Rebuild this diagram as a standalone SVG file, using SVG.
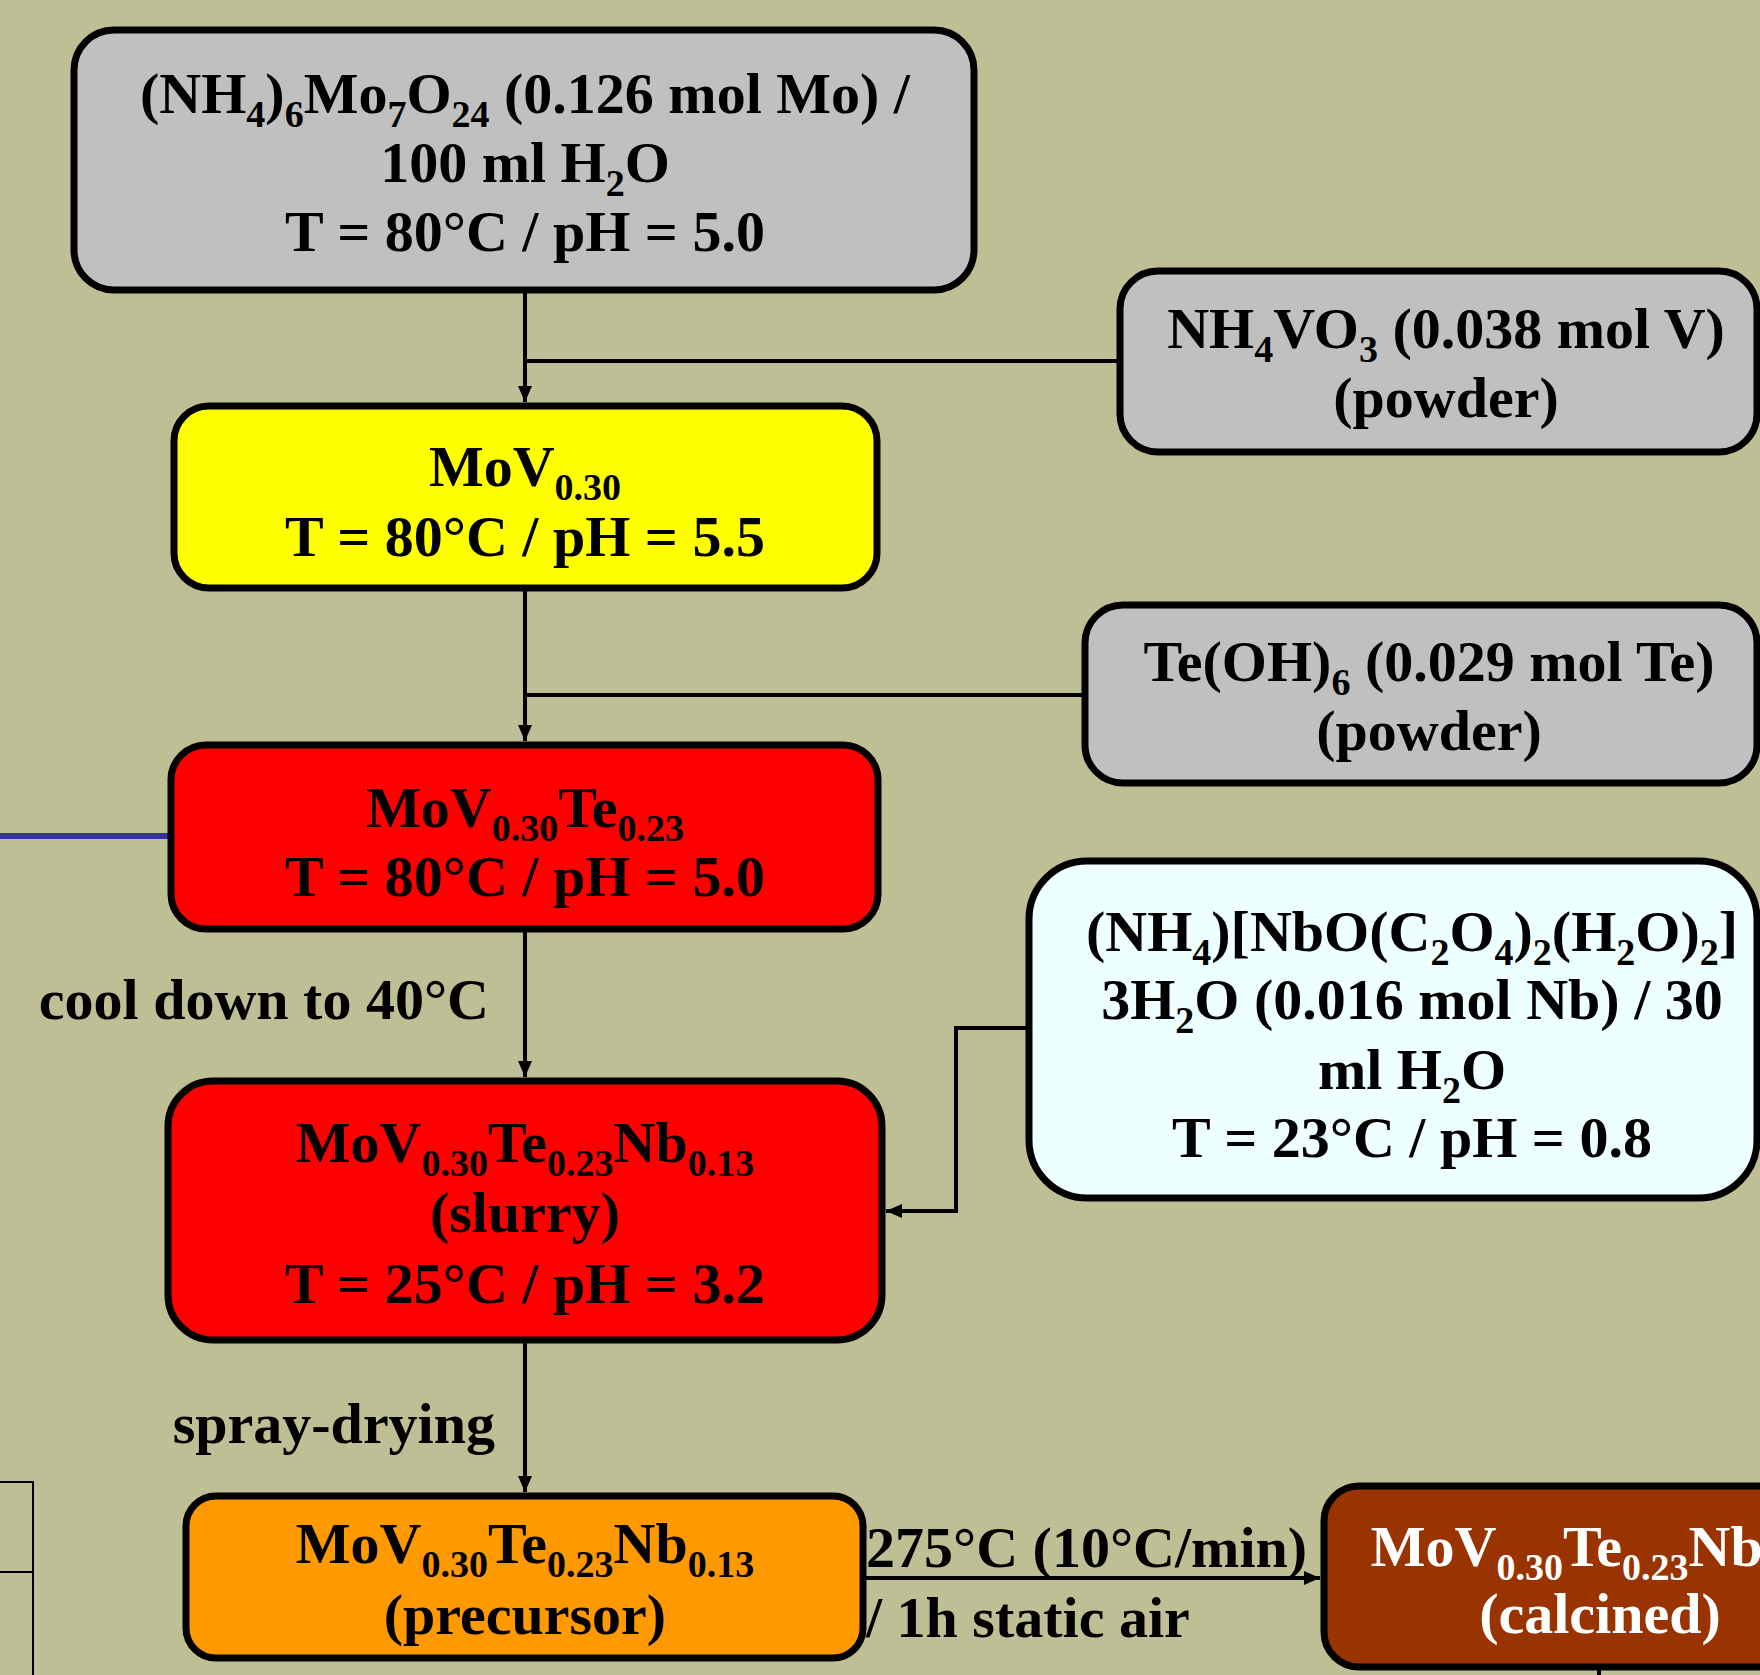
<svg xmlns="http://www.w3.org/2000/svg" width="1760" height="1675" viewBox="0 0 1760 1675">
<defs>
<style>
.box{stroke:#000;stroke-width:7}
.t{font-family:"Liberation Serif","Times New Roman",serif;font-weight:bold;font-size:58px;fill:#000}
.c{text-anchor:middle}
.w{fill:#fff}
.s{font-size:38px}
.con{stroke:#000;stroke-width:4;fill:none}
</style>
<marker id="arr" markerUnits="userSpaceOnUse" markerWidth="18" markerHeight="14" refX="16" refY="7" orient="auto">
<path d="M0,0 L16,7 L0,14 Z" fill="#000"/>
</marker>
</defs>
<rect width="1760" height="1675" fill="#BFBF95"/>
<g id="connectors">
<line class="con" x1="525" y1="290" x2="525" y2="402" marker-end="url(#arr)"/>
<line class="con" x1="1120" y1="361" x2="525" y2="361"/>
<line class="con" x1="525" y1="588" x2="525" y2="741" marker-end="url(#arr)"/>
<line class="con" x1="1085" y1="695" x2="525" y2="695"/>
<line class="con" x1="525" y1="929" x2="525" y2="1077" marker-end="url(#arr)"/>
<polyline class="con" points="1029,1028 956,1028 956,1211 886,1211" marker-end="url(#arr)"/>
<line class="con" x1="525" y1="1340" x2="525" y2="1492" marker-end="url(#arr)"/>
<line class="con" x1="863" y1="1578" x2="1320" y2="1578" marker-end="url(#arr)"/>
<line x1="0" y1="836" x2="171" y2="836" stroke="#333399" stroke-width="6"/>
<path d="M0,1482 H33 V1675 M0,1572 H33" stroke="#000" stroke-width="2" fill="none"/>
<line class="con" x1="1599" y1="1667" x2="1599" y2="1675"/>
<text class="t" x="489" y="1019" text-anchor="end">cool down to 40°C</text>
<text class="t" x="495" y="1443" text-anchor="end">spray-drying</text>
<text class="t" x="866" y="1567">275°C (10°C/min)</text>
<text class="t" x="866" y="1637">/ 1h static air</text>
</g>
<g id="n1">
<rect class="box" x="74" y="30" width="900" height="260" rx="40" fill="#C0C0C0"/>
<text class="t c" x="525" y="113">(NH<tspan class="s" dy="14">4</tspan><tspan dy="-14">)</tspan><tspan class="s" dy="14">6</tspan><tspan dy="-14">Mo</tspan><tspan class="s" dy="14">7</tspan><tspan dy="-14">O</tspan><tspan class="s" dy="14">24</tspan><tspan dy="-14"> (0.126 mol Mo) /</tspan></text>
<text class="t c" x="525" y="182">100 ml H<tspan class="s" dy="14">2</tspan><tspan dy="-14">O</tspan></text>
<text class="t c" x="525" y="251">T = 80°C / pH = 5.0</text>
</g>
<g id="n2">
<rect class="box" x="1120" y="271" width="637" height="181" rx="38" fill="#C0C0C0"/>
<text class="t c" x="1446" y="348">NH<tspan class="s" dy="14">4</tspan><tspan dy="-14">VO</tspan><tspan class="s" dy="14">3</tspan><tspan dy="-14"> (0.038 mol V)</tspan></text>
<text class="t c" x="1446" y="417">(powder)</text>
</g>
<g id="n3">
<rect class="box" x="174" y="406" width="703" height="182" rx="35" fill="#FFFF00"/>
<text class="t c" x="525" y="486">MoV<tspan class="s" dy="14">0.30</tspan></text>
<text class="t c" x="525" y="556">T = 80°C / pH = 5.5</text>
</g>
<g id="n4">
<rect class="box" x="1085" y="605" width="672" height="178" rx="38" fill="#C0C0C0"/>
<text class="t c" x="1429" y="681">Te(OH)<tspan class="s" dy="14">6</tspan><tspan dy="-14"> (0.029 mol Te)</tspan></text>
<text class="t c" x="1429" y="750">(powder)</text>
</g>
<g id="n5">
<rect class="box" x="171" y="745" width="707" height="184" rx="35" fill="#FF0000"/>
<text class="t c" x="525" y="827">MoV<tspan class="s" dy="14">0.30</tspan><tspan dy="-14">Te</tspan><tspan class="s" dy="14">0.23</tspan></text>
<text class="t c" x="525" y="896">T = 80°C / pH = 5.0</text>
</g>
<g id="n6">
<rect class="box" x="1029" y="861" width="728" height="337" rx="58" fill="#EEFFFF"/>
<text class="t c" x="1412" y="951">(NH<tspan class="s" dy="14">4</tspan><tspan dy="-14">)[NbO(C</tspan><tspan class="s" dy="14">2</tspan><tspan dy="-14">O</tspan><tspan class="s" dy="14">4</tspan><tspan dy="-14">)</tspan><tspan class="s" dy="14">2</tspan><tspan dy="-14">(H</tspan><tspan class="s" dy="14">2</tspan><tspan dy="-14">O)</tspan><tspan class="s" dy="14">2</tspan><tspan dy="-14">]</tspan></text>
<text class="t c" x="1412" y="1019">3H<tspan class="s" dy="14">2</tspan><tspan dy="-14">O (0.016 mol Nb) / 30</tspan></text>
<text class="t c" x="1412" y="1089">ml H<tspan class="s" dy="14">2</tspan><tspan dy="-14">O</tspan></text>
<text class="t c" x="1412" y="1157">T = 23°C / pH = 0.8</text>
</g>
<g id="n7">
<rect class="box" x="168" y="1081" width="714" height="259" rx="45" fill="#FF0000"/>
<text class="t c" x="525" y="1162">MoV<tspan class="s" dy="14">0.30</tspan><tspan dy="-14">Te</tspan><tspan class="s" dy="14">0.23</tspan><tspan dy="-14">Nb</tspan><tspan class="s" dy="14">0.13</tspan></text>
<text class="t c" x="525" y="1232">(slurry)</text>
<text class="t c" x="525" y="1303">T = 25°C / pH = 3.2</text>
</g>
<g id="n8">
<rect class="box" x="186" y="1496" width="677" height="162" rx="30" fill="#FF9900"/>
<text class="t c" x="525" y="1563">MoV<tspan class="s" dy="14">0.30</tspan><tspan dy="-14">Te</tspan><tspan class="s" dy="14">0.23</tspan><tspan dy="-14">Nb</tspan><tspan class="s" dy="14">0.13</tspan></text>
<text class="t c" x="525" y="1634">(precursor)</text>
</g>
<g id="n9">
<rect class="box" x="1324" y="1486" width="560" height="181" rx="35" fill="#993300"/>
<text class="t c w" x="1600" y="1566">MoV<tspan class="s" dy="14">0.30</tspan><tspan dy="-14">Te</tspan><tspan class="s" dy="14">0.23</tspan><tspan dy="-14">Nb</tspan><tspan class="s" dy="14">0.13</tspan></text>
<text class="t c w" x="1600" y="1633">(calcined)</text>
</g>
</svg>
